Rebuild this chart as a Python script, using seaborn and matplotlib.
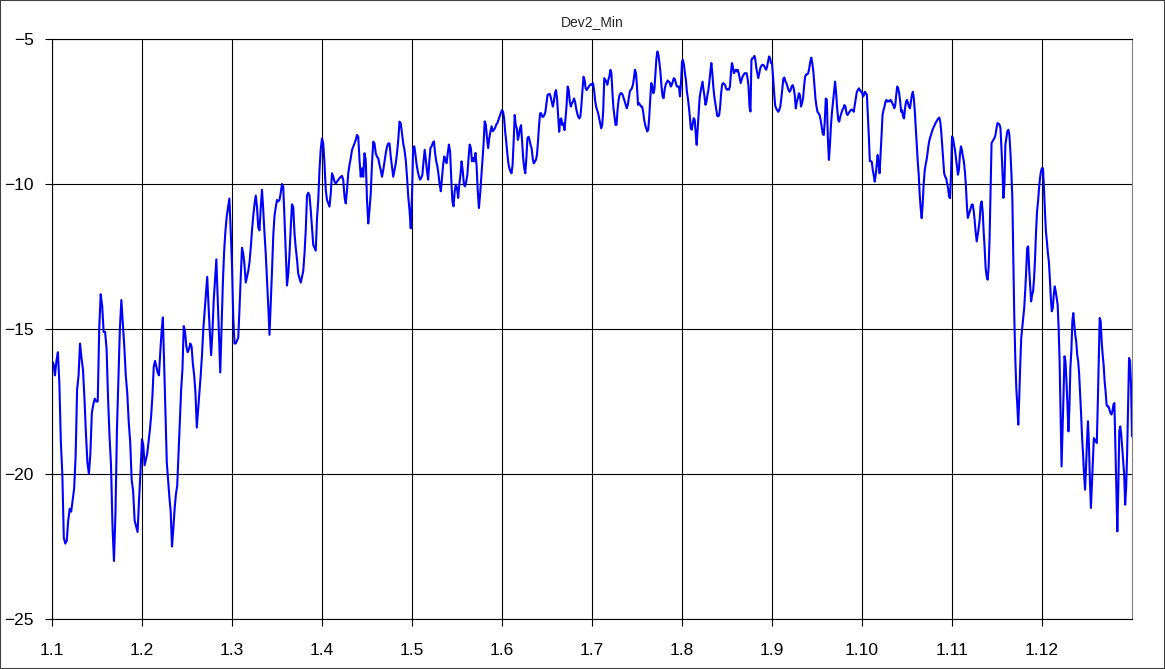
import numpy as np
import matplotlib
matplotlib.use("Agg")
import matplotlib.pyplot as plt
from matplotlib.patches import Rectangle
import seaborn as sns

# category labels on the x axis
tick_labels = ["1.1", "1.2", "1.3", "1.4", "1.5", "1.6", "1.7", "1.8", "1.9", "1.10", "1.11", "1.12"]

# values, one list per category
dev_1_1 = [-16.1, -16.2, -16.6, -16.1, -15.8, -16.9, -18.9, -20.0, -22.2, -22.4, -22.3, -21.6, -21.2, -21.3,
           -20.9, -20.5, -19.4, -17.1, -16.6, -15.5, -16.0, -16.4, -17.4, -18.6, -19.6, -20.0, -19.3, -17.9,
           -17.6, -17.4, -17.5, -17.5, -15.0, -13.8, -14.2, -15.1, -15.1, -15.7, -17.4, -18.7, -19.7, -21.8,
           -23.0, -21.4, -18.5, -16.7, -15.0, -14.0, -14.8, -15.6, -16.6, -17.2, -18.2, -18.9, -20.2, -20.6,
           -21.6, -21.8, -22.0, -20.9, -19.9]
dev_1_2 = [-18.8, -19.0, -19.7, -19.5, -19.3, -18.9, -18.5, -18.0, -17.3, -16.3, -16.1, -16.3, -16.5, -16.6,
           -15.8, -15.1, -14.6, -16.2, -17.9, -19.6, -20.2, -20.8, -21.3, -22.5, -21.9, -21.2, -20.7, -20.4,
           -19.3, -18.2, -17.1, -16.4, -14.9, -15.1, -15.6, -15.8, -15.7, -15.5, -15.6, -16.2, -16.6, -17.2,
           -18.4, -17.8, -17.2, -16.6, -15.9, -15.0, -14.4, -13.8, -13.2, -14.2, -15.1, -15.9, -15.1, -14.0,
           -13.3, -12.6, -13.9, -15.3, -16.5, -14.9, -13.4, -12.3, -11.6, -11.1, -10.8, -10.5, -11.6]
dev_1_3 = [-12.8, -14.6, -15.5, -15.5, -15.4, -15.3, -14.3, -13.2, -12.2, -12.4, -12.8, -13.4, -13.2, -13.0,
           -12.7, -12.2, -11.6, -11.1, -10.7, -10.4, -10.8, -11.5, -11.6, -10.8, -10.2, -10.9, -11.7, -12.4,
           -13.3, -14.2, -15.2, -14.1, -13.0, -11.8, -11.1, -10.8, -10.55, -10.6, -10.55, -10.3, -10.0, -10.1,
           -11.2, -12.4, -13.5, -13.1, -12.4, -11.5, -10.7, -10.8, -11.7, -12.2, -12.6, -13.1, -13.25, -13.4,
           -13.2, -13.0, -12.4, -11.6, -10.4, -10.3, -10.4, -10.9, -11.5, -12.1, -12.2, -12.3, -11.2, -10.55,
           -9.5, -8.8]
dev_1_4 = [-8.43, -8.6, -9.29, -10.21, -10.55, -10.67, -10.78, -10.32, -9.63, -9.75, -9.92, -9.98, -9.92,
           -9.86, -9.8, -9.75, -9.72, -9.86, -10.44, -10.67, -10.21, -9.63, -9.34, -9.11, -8.83, -8.71, -8.6,
           -8.48, -8.31, -8.37, -9.17, -9.75, -9.46, -9.75, -8.94, -9.17, -10.55, -11.36, -10.9, -10.32, -9.29,
           -8.54, -8.6, -8.94, -9.06, -9.11, -9.34, -9.52, -9.75, -9.52, -9.23, -8.94, -8.71, -8.6, -8.6, -9.06,
           -9.4, -9.75, -9.52, -9.29, -8.94, -8.48, -7.85, -7.91, -8.25, -8.6, -8.83, -9.17, -9.75, -10.44,
           -10.9, -11.53]
dev_1_5 = [-10.37, -8.76, -8.70, -8.99, -9.33, -9.56, -9.74, -9.85, -9.79, -9.68, -9.22, -8.82, -9.16, -9.56,
           -9.85, -9.22, -8.76, -8.70, -8.59, -8.53, -8.93, -9.22, -9.39, -9.68, -10.02, -10.25, -9.79, -9.33,
           -9.05, -9.22, -9.28, -8.93, -8.64, -8.87, -9.79, -10.60, -10.77, -10.25, -10.02, -10.14, -10.48,
           -10.02, -9.68, -9.22, -9.56, -10.02, -10.08, -9.91, -9.68, -9.10, -8.64, -8.76, -9.22, -9.10, -9.22,
           -8.93, -9.39, -10.25, -10.83, -10.37, -9.79, -9.22, -8.64, -7.84, -7.95, -8.41, -8.76, -8.41, -8.18,
           -8.01, -8.18, -8.13, -8.07, -7.95, -7.90, -7.78, -7.67, -7.55]
dev_1_6 = [-7.45, -7.51, -7.74, -8.20, -8.54, -8.94, -9.29, -9.46, -9.57, -9.63, -9.34, -8.54, -7.62, -7.97,
           -8.08, -8.48, -8.31, -8.08, -7.97, -8.54, -9.11, -9.46, -9.63, -9.11, -8.43, -8.37, -8.48, -8.66,
           -8.77, -9.11, -9.29, -9.23, -9.17, -9.00, -8.54, -7.97, -7.56, -7.56, -7.68, -7.68, -7.62, -7.51,
           -7.22, -6.93, -6.91, -6.89, -7.00, -7.16, -7.33, -7.16, -6.87, -6.76, -7.05, -7.62, -8.20, -7.79,
           -7.74, -7.97, -7.91, -8.14, -7.74, -7.28, -6.64, -6.76, -7.16, -7.33, -7.22, -7.16, -7.05, -7.16,
           -7.39, -7.56, -7.68, -7.74, -7.68, -7.28, -6.76, -6.30, -6.41, -6.70, -6.76, -6.70, -6.64, -6.59,
           -6.56]
dev_1_7 = [-6.58, -6.52, -6.75, -7.10, -7.33, -7.44, -7.56, -7.73, -7.90, -8.08, -7.96, -7.44, -6.35, -6.41,
           -6.47, -6.58, -6.41, -6.29, -6.06, -6.18, -6.87, -7.39, -7.67, -7.96, -7.96, -7.44, -7.10, -6.93,
           -6.87, -6.87, -6.93, -7.04, -7.16, -7.27, -7.39, -7.27, -7.04, -6.81, -6.75, -6.70, -6.58, -6.35,
           -6.06, -6.18, -6.64, -7.27, -7.21, -7.27, -7.33, -7.33, -7.50, -7.79, -7.96, -8.08, -8.19, -8.13,
           -7.67, -7.04, -6.52, -6.64, -6.87, -6.75, -6.18, -5.66, -5.43, -5.55, -5.83, -6.18, -6.64, -6.98,
           -7.04, -6.75, -6.58, -6.50, -6.43, -6.47, -6.50, -6.64, -6.58, -6.47, -6.35, -6.39, -6.52, -6.64,
           -6.64, -6.64, -6.98, -6.52]
dev_1_8 = [-5.78, -5.72, -5.89, -6.18, -6.41, -6.81, -7.04, -7.33, -7.67, -8.08, -8.13, -7.90, -7.73, -7.79,
           -8.25, -8.65, -8.13, -7.56, -7.04, -6.81, -6.64, -6.47, -6.75, -6.98, -7.27, -7.16, -6.93, -6.75,
           -6.47, -6.12, -5.83, -6.18, -6.64, -6.98, -7.21, -7.44, -7.65, -7.67, -7.62, -7.33, -6.87, -6.58,
           -6.52, -6.55, -6.58, -6.70, -6.75, -6.73, -6.75, -6.64, -6.18, -5.83, -5.95, -6.18, -6.12, -6.06,
           -6.12, -6.06, -6.18, -6.35, -6.52, -6.41, -6.29, -6.24, -6.18, -6.18, -6.18, -6.35, -6.64, -7.33,
           -7.50, -5.72, -5.66, -5.66, -5.58, -5.72, -6.01, -6.18, -6.35, -6.18, -6.01, -5.93, -5.89, -5.89,
           -5.93, -6.01, -6.06, -5.95, -5.78, -5.60, -5.66, -5.83]
dev_1_9 = [-5.84, -6.30, -6.82, -7.28, -7.39, -7.45, -7.51, -7.45, -7.33, -7.05, -6.70, -6.36, -6.33, -6.47,
           -6.53, -6.64, -6.76, -6.82, -6.76, -6.64, -6.59, -6.70, -6.93, -7.39, -7.16, -7.05, -6.87, -6.93,
           -7.33, -7.22, -7.05, -6.64, -6.30, -6.22, -6.22, -6.18, -6.01, -5.78, -5.64, -5.84, -6.13, -6.59,
           -7.05, -7.33, -7.51, -7.56, -7.62, -7.79, -8.02, -8.25, -8.31, -7.85, -7.05, -7.10, -8.42, -9.17,
           -8.66, -7.97, -7.51, -7.16, -6.82, -6.47, -6.87, -7.39, -7.79, -7.85, -7.68, -7.56, -7.45, -7.39,
           -7.28, -7.33, -7.56, -7.62, -7.56, -7.51, -7.45, -7.43, -7.45, -7.51, -7.28, -7.05, -6.82, -6.76,
           -6.70, -6.76, -6.82]
dev_1_10 = [-6.82, -6.99, -6.93, -6.82, -6.87, -6.93, -7.62, -8.37, -9.21, -9.21, -9.23, -9.52, -9.69, -9.92,
            -9.69, -9.34, -9.00, -9.34, -9.63, -9.00, -8.31, -7.62, -7.45, -7.33, -7.16, -7.10, -7.16, -7.13,
            -7.16, -7.10, -7.13, -7.22, -7.28, -7.39, -7.28, -6.93, -6.64, -6.70, -6.87, -7.16, -7.51, -7.45,
            -7.68, -7.74, -7.39, -7.16, -7.10, -7.22, -7.33, -7.39, -7.16, -6.93, -6.82, -7.05, -7.51, -8.08,
            -8.66, -9.23, -9.69, -10.38, -10.84, -11.18, -10.72, -10.03, -9.57, -9.34, -9.17, -8.94, -8.66,
            -8.48, -8.37, -8.25, -8.14, -8.06, -7.99, -7.91, -7.85, -7.79, -7.74, -7.71, -7.85, -8.20, -8.66,
            -9.17, -9.63, -9.75, -9.80, -9.98, -10.15, -10.44, -10.49, -9.69]
dev_1_11 = [-8.36, -8.41, -8.64, -8.82, -9.10, -9.39, -9.68, -9.51, -8.99, -8.70, -8.82, -9.05, -9.22, -9.56,
            -10.02, -10.71, -11.17, -11.06, -10.94, -10.83, -10.71, -10.71, -10.94, -11.29, -11.69, -11.98,
            -11.75, -11.52, -11.23, -10.71, -10.60, -10.94, -11.63, -12.21, -12.90, -13.18, -13.30, -12.90,
            -11.86, -10.14, -8.59, -8.53, -8.47, -8.41, -8.30, -8.07, -7.90, -7.92, -7.95, -8.07, -8.76, -9.56,
            -10.48, -10.02, -8.64, -8.41, -8.18, -8.13, -8.30, -8.87, -9.56, -10.48, -12.55, -14.62, -16.00,
            -17.03, -17.61, -18.30, -17.38, -16.23, -15.31, -14.97, -14.62, -14.28, -13.70, -13.01, -12.21,
            -12.15, -12.90, -13.47, -14.05, -13.82, -13.70, -13.24, -12.55, -11.63, -10.94, -10.60, -10.14,
            -9.79, -9.56]
dev_1_12 = [-9.45, -9.46, -10.14, -10.94, -11.63, -11.98, -12.38, -12.67, -13.24, -13.93, -14.39, -14.28,
            -13.82, -13.53, -13.70, -13.93, -14.16, -14.97, -16.11, -17.95, -19.74, -18.53, -17.26, -15.94,
            -16.11, -16.80, -17.61, -18.53, -17.72, -16.34, -15.77, -14.74, -14.45, -14.85, -15.20, -15.43,
            -15.89, -16.11, -16.57, -17.26, -17.95, -18.76, -19.33, -20.02, -20.54, -19.79, -18.87, -18.18,
            -18.99, -20.25, -21.17, -20.37, -19.56, -18.76, -18.82, -18.87, -18.93, -17.61, -16.11, -14.62,
            -14.74, -15.43, -15.89, -16.23, -16.80, -17.15, -17.61, -17.67, -17.67, -17.78, -17.90, -17.95,
            -17.84, -17.61, -17.55, -18.99, -20.48, -21.98, -20.48, -18.53, -18.36, -18.64, -19.10, -19.56,
            -20.02, -21.06, -20.48, -19.33, -17.72, -16.00, -16.11, -16.92, -18.70]

groups = [dev_1_1, dev_1_2, dev_1_3, dev_1_4, dev_1_5, dev_1_6,
          dev_1_7, dev_1_8, dev_1_9, dev_1_10, dev_1_11, dev_1_12]

# spread each category's readings evenly over its slot on the axis
x = np.concatenate([g + np.linspace(0, 1, len(v), endpoint=(g == len(groups) - 1))
                    for g, v in enumerate(groups)])
y = np.concatenate(groups)

sns.set_style("white")
plt.rcParams['font.family'] = ['Liberation Sans', 'DejaVu Sans']

fig = plt.figure(figsize=(11.65, 6.69), dpi=100)
ax = fig.add_axes([52 / 1165, 50 / 669, 1080 / 1165, 580 / 669])

sns.lineplot(x=x, y=y, ax=ax, color='#0000ff', linewidth=1.5, estimator=None, sort=False)

ax.set_xlim(0, len(groups))
ax.set_ylim(-25, -5)
ax.set_xticks(np.arange(len(tick_labels)))
ax.set_xticklabels(tick_labels)
ax.set_yticks([-25, -20, -15, -10, -5])
ax.set_xlabel('')
ax.set_ylabel('')

ax.grid(True, color='black', linewidth=0.8)
ax.set_axisbelow(True)
for side in ['left', 'bottom', 'top']:
    ax.spines[side].set_color('black')
    ax.spines[side].set_linewidth(0.8)
ax.spines['right'].set_color('#808080')
ax.spines['right'].set_linewidth(0.8)

ax.tick_params(axis='both', which='major', bottom=True, left=True, direction='out',
               length=5, width=0.8, color='black', labelsize=12.5, labelcolor='black')
ax.tick_params(axis='y', pad=8)
ax.tick_params(axis='x', pad=12)

ax.set_title('Dev2_Min', fontsize=10, pad=9)

# thin frame round the whole chart
fig.add_artist(Rectangle((0, 0), 1, 1, transform=fig.transFigure, fill=False,
                         edgecolor='#404040', linewidth=1.5))

fig.savefig('out.png', dpi=100)
